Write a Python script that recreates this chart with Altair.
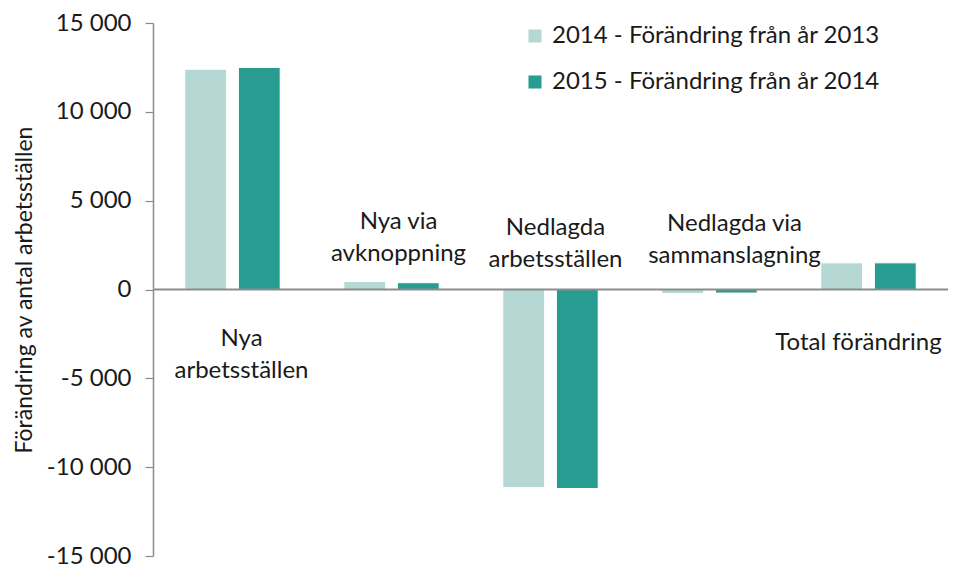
import altair as alt
import pandas as pd

categories = ["Nya arbetsställen", "Nya via avknoppning", "Nedlagda arbetsställen",
              "Nedlagda via sammanslagning", "Total förändring"]
series = ["2014 - Förändring från år 2013", "2015 - Förändring från år 2014"]
values_2014 = [12400, 450, -11150, -230, 1500]
values_2015 = [12500, 380, -11200, -200, 1500]
y_ticks = [-15000, -10000, -5000, 0, 5000, 10000, 15000]
colors = ["#b5d8d5", "#289c90"]

label_texts = ["Nya\narbetsställen", "Nya via\navknoppning", "Nedlagda\narbetsställen",
               "Nedlagda via\nsammanslagning", "Total förändring"]
label_anchor = [-2800, 3800, 3450, 3700, -3000]
label_shift = [9, 7, 5, 25, -10]

rows = []
for c, a, b in zip(categories, values_2014, values_2015):
    rows.append({"category": c, "series": series[0], "value": a})
    rows.append({"category": c, "series": series[1], "value": b})
df = pd.DataFrame(rows)

FONT = "Lato"
FS = 24

xscale = alt.Scale(domain=categories, paddingInner=0.4, paddingOuter=0.2)

bars = alt.Chart(df).mark_bar(stroke="white", strokeWidth=1).encode(
    x=alt.X("category:N", sort=categories, scale=xscale, axis=None),
    xOffset=alt.XOffset("series:N", sort=series,
                        scale=alt.Scale(paddingInner=0.22, paddingOuter=0)),
    y=alt.Y("value:Q",
            scale=alt.Scale(domain=[-15000, 15000], nice=False),
            axis=alt.Axis(values=y_ticks, grid=False, domainColor="#8c8c8c", domainWidth=1.5,
                          tickColor="#8c8c8c", tickSize=8, tickWidth=1.2,
                          labelFont=FONT, labelFontSize=FS, labelColor="#1a1a1a",
                          labelFontWeight="normal", labelPadding=14,
                          labelExpr="replace(replace(format(datum.value, ','), ',', ' '), '\u2212', '-')",
                          title="Förändring av antal arbetsställen",
                          titleFont=FONT, titleFontSize=23, titleFontWeight="normal",
                          titleColor="#1a1a1a", titlePadding=10)),
    color=alt.Color("series:N", sort=series,
                    scale=alt.Scale(domain=series, range=colors),
                    legend=alt.Legend(title=None, orient="none", legendX=370, legendY=1,
                                      symbolType="square", symbolSize=170,
                                      symbolStrokeWidth=0, labelLimit=0,
                                      labelFont=FONT, labelFontSize=FS, labelColor="#1a1a1a",
                                      rowPadding=22, labelOffset=5)),
)

zero = alt.Chart(pd.DataFrame({"y": [0]})).mark_rule(color="#8c8c8c", strokeWidth=2).encode(
    y=alt.Y("y:Q"))

lab_df = pd.DataFrame({"category": categories, "text": label_texts, "anchor": label_anchor})
label_layers = []
for cat, shift in zip(categories, label_shift):
    label_layers.append(
        alt.Chart(lab_df).transform_filter(alt.datum.category == cat).mark_text(
            font=FONT, fontSize=FS, color="#1a1a1a", lineBreak="\n", lineHeight=32,
            align="center", baseline="middle", dx=shift
        ).encode(
            x=alt.X("category:N", sort=categories, scale=xscale, axis=None),
            y=alt.Y("anchor:Q"),
            text="text:N",
        )
    )

chart = alt.layer(bars, zero, *label_layers).properties(
    width=795, height=533,
    autosize=alt.AutoSizeParams(type="none"),
    padding={"left": 145, "top": 15, "right": 4, "bottom": 13},
).configure_view(stroke=None)

chart.save("out.html", embed_options={"renderer": "svg", "actions": False})
